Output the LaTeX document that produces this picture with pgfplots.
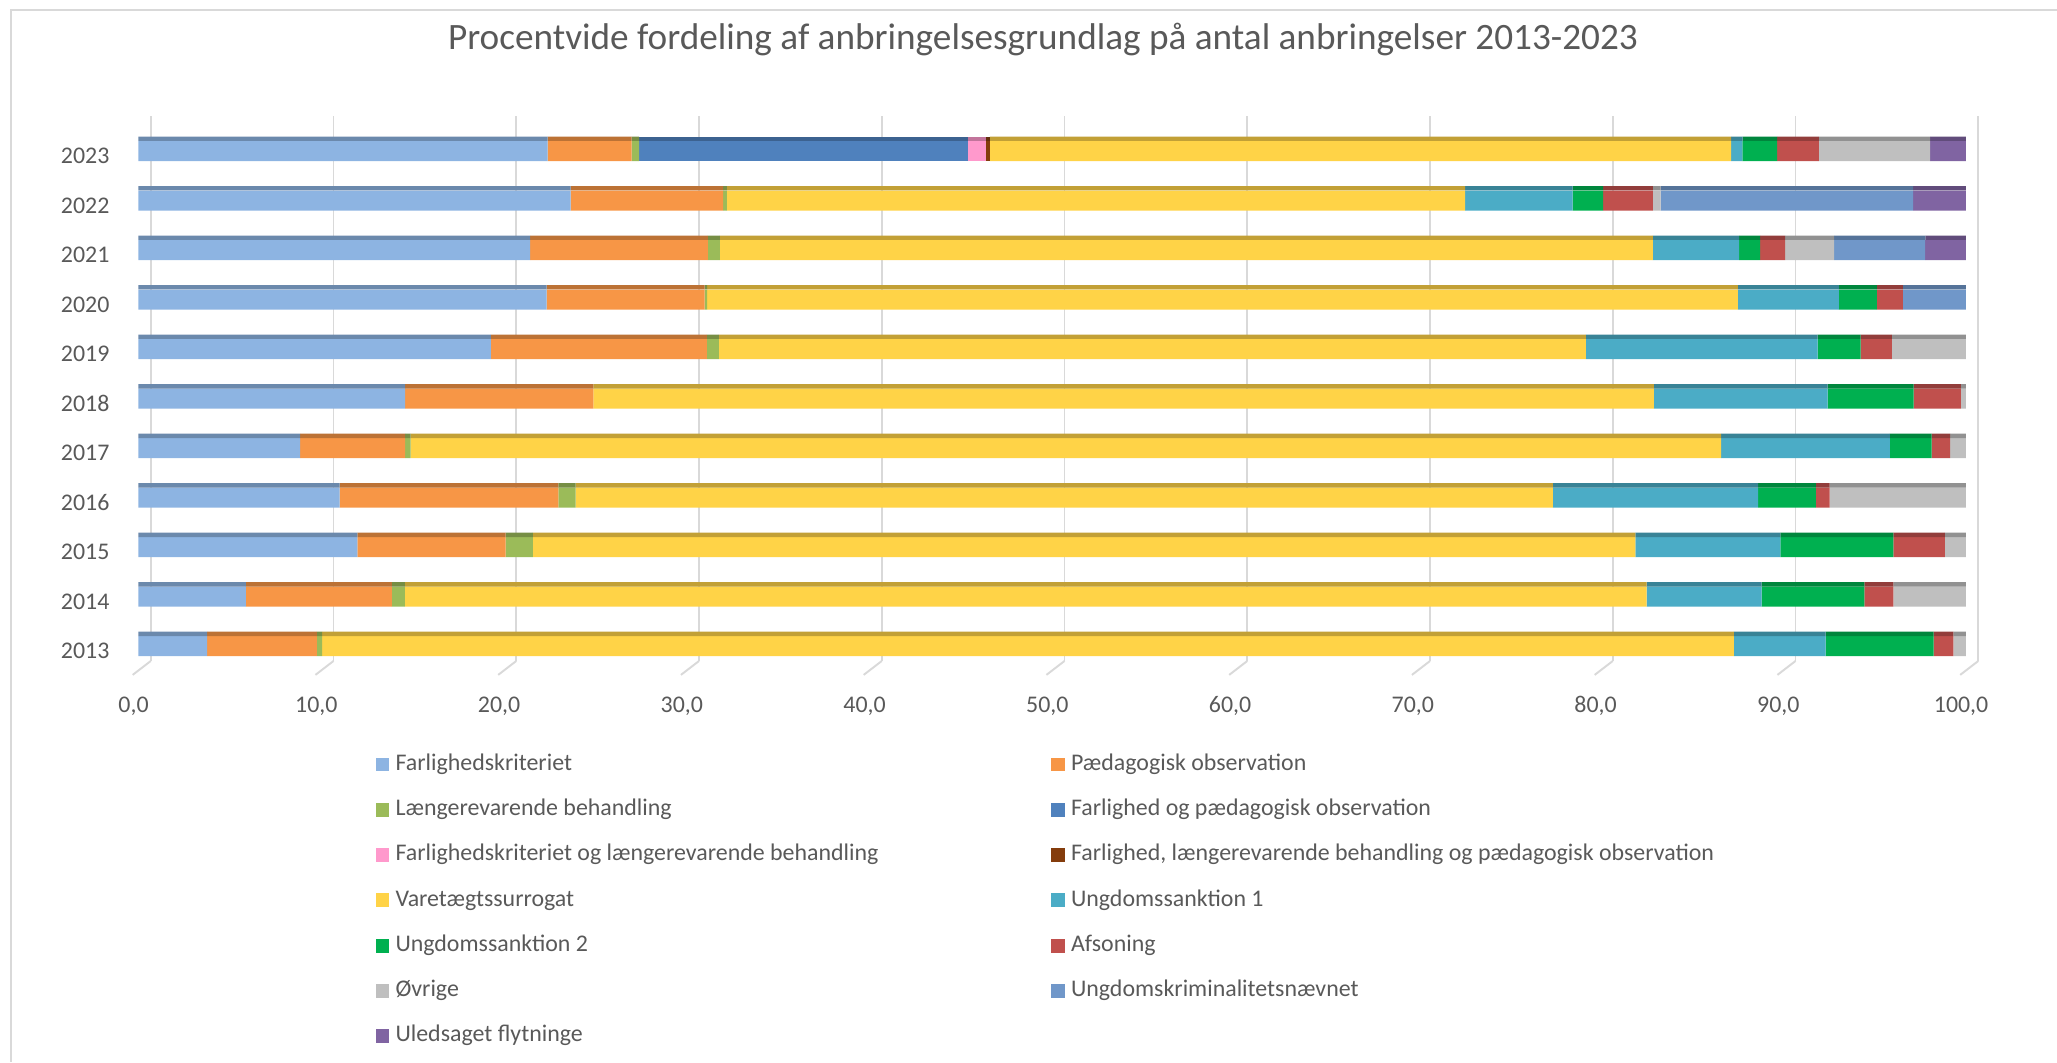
\documentclass[border=0pt]{standalone}
\usepackage{pgfplots}
\pgfplotsset{compat=1.18}
\usepackage{pgfplotstable}
\usepackage{fontspec}
\setmainfont{Carlito}

\definecolor{cFK}{HTML}{8DB4E2}
\definecolor{cPO}{HTML}{F79646}
\definecolor{cLB}{HTML}{9BBB59}
\definecolor{cFPO}{HTML}{4F81BD}
\definecolor{cFKLB}{HTML}{FF99CC}
\definecolor{cFLBPO}{HTML}{843C0C}
\definecolor{cVS}{HTML}{FFD347}
\definecolor{cUSa}{HTML}{4BACC6}
\definecolor{cUSb}{HTML}{00B050}
\definecolor{cAF}{HTML}{C0504D}
\definecolor{cOV}{HTML}{BFBFBF}
\definecolor{cUKN}{HTML}{7097C9}
\definecolor{cUF}{HTML}{8064A2}
\definecolor{txt}{HTML}{595959}
\definecolor{gridc}{HTML}{D9D9D9}

\pgfplotstableread{
y FK PO LB FPO FKLB FLBPO VS USa USb AF OV UKN UF
0 3.76 6.01 0.29 0 0 0 77.25 5.02 5.91 1.08 0.68 0 0
1 5.89 7.98 0.71 0 0 0 67.95 6.30 5.62 1.59 3.96 0 0
2 11.99 8.11 1.49 0 0 0 60.33 7.93 6.19 2.82 1.14 0 0
3 11.01 11.97 0.95 0 0 0 53.47 11.23 3.17 0.75 7.45 0 0
4 8.86 5.74 0.30 0 0 0 71.71 9.23 2.29 1.01 0.86 0 0
5 14.60 10.30 0 0 0 0 58.03 9.51 4.70 2.59 0.27 0 0
6 19.29 11.82 0.66 0 0 0 47.44 12.68 2.36 1.70 4.05 0 0
7 22.34 8.65 0.14 0 0 0 56.40 5.53 2.07 1.43 0 3.44 0
8 21.44 9.72 0.66 0 0 0 51.06 4.72 1.15 1.36 2.69 4.98 2.22
9 23.66 8.34 0.20 0 0 0 40.40 5.88 1.67 2.73 0.42 13.82 2.88
10 22.40 4.60 0.40 18.00 1.00 0.20 40.56 0.62 1.89 2.29 6.08 0 1.96
}\data

\pgfplotsset{
  common/.style={
    at={(49.79pt,-237.96pt)}, anchor=south west,
    scale only axis, width=662.5pt, height=196.2pt,
    xmin=0, xmax=100.7, ymin=-0.303, ymax=10.707,
    xbar stacked,
  },
}

\begin{document}
\begin{tikzpicture}
\path[use as bounding box] (0,0) rectangle (740.52pt,-382.32pt);
\draw[gridc, line width=0.7pt] (3.96pt,-382.32pt) -- (3.96pt,-3.6pt) -- (740.52pt,-3.6pt);
\begin{axis}[
  common,
  bar width=7.2pt,
  every axis plot post/.append style={
    legend image code/.code={\fill[##1] (0pt,-2.5pt) rectangle (5pt,2.5pt);}},
  axis line style={draw=none},
  major tick length=0pt,
  clip=false,
  xtick={0,10,20,30,40,50,60,70,80,90,100},
  extra x ticks={0.68,10.68,20.68,30.68,40.68,50.68,60.68,70.68,80.68,90.68,100.68},
  extra x tick labels={},
  extra x tick style={grid=major},
  major grid style={gridc, line width=0.7pt},
  xticklabel style={font=\fontsize{8.6}{10}\selectfont, text=txt, anchor=base, inner sep=0pt, xshift=-1.7pt, yshift=-18.7pt,
    /pgf/number format/.cd, fixed, fixed zerofill, precision=1, use comma, assume math mode=true},
  ytick={0,1,2,3,4,5,6,7,8,9,10},
  yticklabels={2013,2014,2015,2016,2017,2018,2019,2020,2021,2022,2023},
  yticklabel style={font=\fontsize{8.6}{10}\selectfont, text=txt, anchor=base east, inner sep=0pt, xshift=-10.2pt, yshift=-4.57pt},
  title={Procentvide fordeling af anbringelsesgrundlag på antal anbringelser 2013-2023},
  title style={at={(axis description cs:0.4916,1.0923)}, anchor=base, inner sep=0pt,
    font=\fontsize{13.4}{15}\selectfont, text=txt},
  legend columns=2,
  legend cell align=left,
  legend style={at={(axis description cs:0.1286,-0.1699)}, anchor=north west,
    draw=none, fill=none, inner sep=0pt, column sep=0pt, row sep=8.9pt,
    nodes={inner sep=0pt, text height=5.8pt, text depth=1.6pt},
    font=\fontsize{8.6}{10}\selectfont, text=txt},
]
\addplot[fill=cFK, draw=none] table[x=FK, y=y]{\data};
\addlegendentry{\hspace{2.2pt}\makebox[236pt][l]{Farlighedskriteriet}}
\addplot[fill=cPO, draw=none] table[x=PO, y=y]{\data};
\addlegendentry{\hspace{2.2pt}Pædagogisk observation}
\addplot[fill=cLB, draw=none] table[x=LB, y=y]{\data};
\addlegendentry{\hspace{2.2pt}\makebox[236pt][l]{Længerevarende behandling}}
\addplot[fill=cFPO, draw=none] table[x=FPO, y=y]{\data};
\addlegendentry{\hspace{2.2pt}Farlighed og pædagogisk observation}
\addplot[fill=cFKLB, draw=none] table[x=FKLB, y=y]{\data};
\addlegendentry{\hspace{2.2pt}\makebox[236pt][l]{Farlighedskriteriet og længerevarende behandling}}
\addplot[fill=cFLBPO, draw=none] table[x=FLBPO, y=y]{\data};
\addlegendentry{\hspace{2.2pt}Farlighed, længerevarende behandling og pædagogisk observation}
\addplot[fill=cVS, draw=none] table[x=VS, y=y]{\data};
\addlegendentry{\hspace{2.2pt}\makebox[236pt][l]{Varetægtssurrogat}}
\addplot[fill=cUSa, draw=none] table[x=USa, y=y]{\data};
\addlegendentry{\hspace{2.2pt}Ungdomssanktion 1}
\addplot[fill=cUSb, draw=none] table[x=USb, y=y]{\data};
\addlegendentry{\hspace{2.2pt}\makebox[236pt][l]{Ungdomssanktion 2}}
\addplot[fill=cAF, draw=none] table[x=AF, y=y]{\data};
\addlegendentry{\hspace{2.2pt}Afsoning}
\addplot[fill=cOV, draw=none] table[x=OV, y=y]{\data};
\addlegendentry{\hspace{2.2pt}\makebox[236pt][l]{Øvrige}}
\addplot[fill=cUKN, draw=none] table[x=UKN, y=y]{\data};
\addlegendentry{\hspace{2.2pt}Ungdomskriminalitetsnævnet}
\addplot[fill=cUF, draw=none] table[x=UF, y=y]{\data};
\addlegendentry{\hspace{2.2pt}\makebox[236pt][l]{Uledsaget flytninge}}
\pgfplotsinvokeforeach{0.68,10.68,20.68,30.68,40.68,50.68,60.68,70.68,80.68,90.68,100.68}{
  \draw[gridc, line width=0.7pt] (axis cs:#1,-0.303) -- ++(-6.5pt,-5pt);
}
\end{axis}
\begin{axis}[
  common,
  hide axis,
  bar width=1.6pt, bar shift=4.4pt,
]
\addplot[fill=cFK!76!black, draw=none] table[x=FK, y=y]{\data};
\addplot[fill=cPO!76!black, draw=none] table[x=PO, y=y]{\data};
\addplot[fill=cLB!76!black, draw=none] table[x=LB, y=y]{\data};
\addplot[fill=cFPO!76!black, draw=none] table[x=FPO, y=y]{\data};
\addplot[fill=cFKLB!76!black, draw=none] table[x=FKLB, y=y]{\data};
\addplot[fill=cFLBPO!76!black, draw=none] table[x=FLBPO, y=y]{\data};
\addplot[fill=cVS!76!black, draw=none] table[x=VS, y=y]{\data};
\addplot[fill=cUSa!76!black, draw=none] table[x=USa, y=y]{\data};
\addplot[fill=cUSb!76!black, draw=none] table[x=USb, y=y]{\data};
\addplot[fill=cAF!76!black, draw=none] table[x=AF, y=y]{\data};
\addplot[fill=cOV!76!black, draw=none] table[x=OV, y=y]{\data};
\addplot[fill=cUKN!76!black, draw=none] table[x=UKN, y=y]{\data};
\addplot[fill=cUF!76!black, draw=none] table[x=UF, y=y]{\data};
\end{axis}
\end{tikzpicture}
\end{document}
